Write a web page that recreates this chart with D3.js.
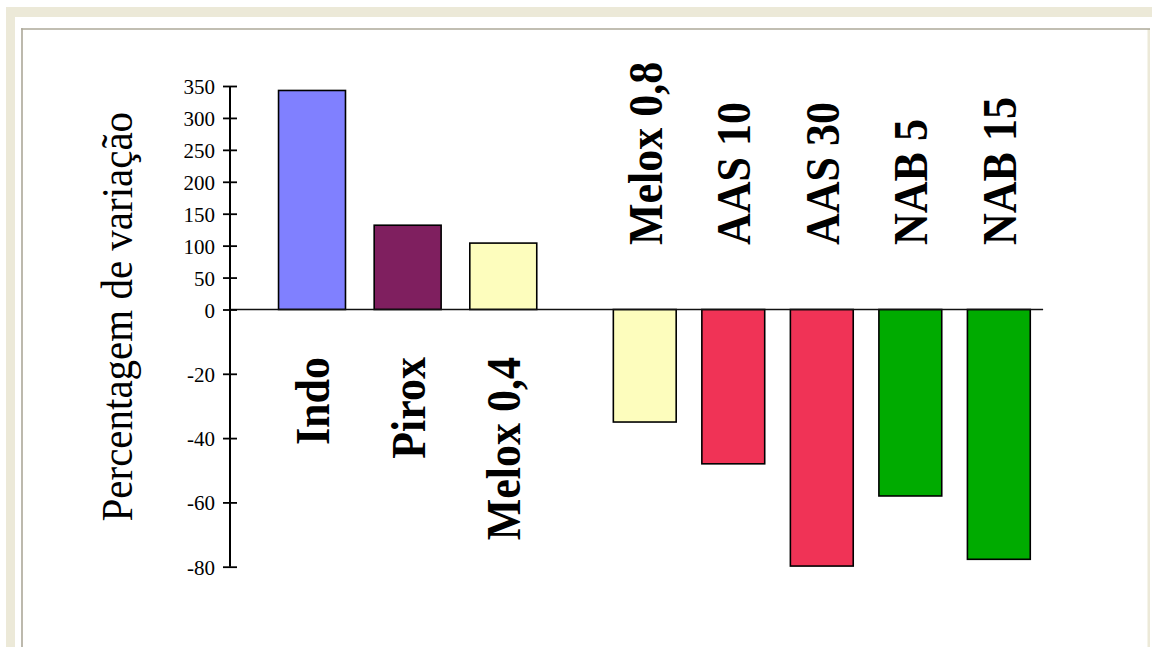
<!DOCTYPE html>
<html>
<head>
<meta charset="utf-8">
<script src="https://cdn.jsdelivr.net/npm/d3@7"></script>
<style>
  html, body { margin: 0; padding: 0; background: #ffffff; }
  svg { display: block; }
  text { font-family: "Liberation Serif", "Times New Roman", serif; fill: #000; }
</style>
</head>
<body>
<svg id="chart" width="1152" height="647"></svg>
<script>
// Tratamentos e percentagem de variação
const categorias = ["Indo", "Pirox", "Melox 0,4", "Melox 0,8", "AAS 10", "AAS 30", "NAB 5", "NAB 15"];
const valores    = [343, 132, 104, -35, -48, -79.8, -58, -77.7];
const cores      = ["#8080ff", "#7f1f5f", "#fdfdbd", "#fdfdbd", "#f03356", "#f03356", "#00ab00", "#00ab00"];
const ticksPositivos = [0, 50, 100, 150, 200, 250, 300, 350];
const ticksNegativos = [-20, -40, -60, -80];
const tituloY = "Percentagem de variação";

const svg = d3.select("#chart");

// Moldura do diapositivo
const bege = "#ece9d8", cinza = "#aca899";
svg.append("rect").attr("x", 6).attr("y", 7).attr("width", 1146).attr("height", 10).attr("fill", bege);
svg.append("rect").attr("x", 6).attr("y", 7).attr("width", 9).attr("height", 640).attr("fill", bege);
svg.append("rect").attr("x", 1147.5).attr("y", 29).attr("width", 2.5).attr("height", 618).attr("fill", bege);
svg.append("line").attr("x1", 21).attr("x2", 1150).attr("y1", 29).attr("y2", 29)
  .attr("stroke", cinza).attr("stroke-width", 1.6);
svg.append("line").attr("x1", 22).attr("x2", 22).attr("y1", 28.2).attr("y2", 647)
  .attr("stroke", cinza).attr("stroke-width", 1.6);

// Eixo com escala quebrada: parte positiva e parte negativa
const eixoX = 230;
const yPos = d3.scaleLinear().domain([0, 350]).range([309.5, 86]);
const yNeg = d3.scaleLinear().domain([-80, 0]).range([566.7, 309.5]);
const y = v => (v >= 0 ? yPos(v) : yNeg(v));

// Escalas de bandas: grupo de aumento e grupo de redução
const dados = categorias.map((c, i) => ({ c, v: valores[i], cor: cores[i] }));
const positivos = dados.filter(d => d.v >= 0).map(d => d.c);
const negativos = dados.filter(d => d.v < 0).map(d => d.c);
const xPos = d3.scaleBand().domain(positivos).range([264.2, 551.1]).paddingInner(0.3).paddingOuter(0.15);
const xNeg = d3.scaleBand().domain(negativos).range([600.5, 1043.1]).paddingInner(0.29).paddingOuter(0.145);
const xBand = d => (d.v >= 0 ? xPos : xNeg);

// Barras
svg.append("g").selectAll("rect").data(dados).join("rect")
  .attr("x", d => xBand(d)(d.c))
  .attr("width", d => xBand(d).bandwidth())
  .attr("y", d => Math.min(y(d.v), y(0)))
  .attr("height", d => Math.abs(y(d.v) - y(0)))
  .attr("fill", d => d.cor)
  .attr("stroke", "#000")
  .attr("stroke-width", 1.6);

// Linha do zero
svg.append("line")
  .attr("x1", eixoX).attr("x2", xNeg.range()[1])
  .attr("y1", y(0)).attr("y2", y(0))
  .attr("stroke", "#111").attr("stroke-width", 1.6);

// Eixo vertical
function estilizarEixo(g) {
  g.select(".domain").remove();
  g.selectAll(".tick line").attr("x1", 7).attr("stroke", "#000").attr("stroke-width", 1.8);
  g.selectAll(".tick text").attr("font-size", 21).attr("dy", "0.36em")
    .attr("font-family", "Liberation Serif, Times New Roman, serif");
}
svg.append("g").attr("transform", `translate(${eixoX},0)`)
  .call(d3.axisLeft(yPos).tickValues(ticksPositivos).tickSize(7).tickPadding(8).tickFormat(d3.format("d")))
  .call(estilizarEixo);
svg.append("g").attr("transform", `translate(${eixoX},0)`)
  .call(d3.axisLeft(yNeg).tickValues(ticksNegativos).tickSize(7).tickPadding(8).tickFormat(d => "-" + Math.abs(d)))
  .call(estilizarEixo);
svg.append("line")
  .attr("x1", eixoX).attr("x2", eixoX)
  .attr("y1", yPos(350)).attr("y2", yNeg(-80))
  .attr("stroke", "#000").attr("stroke-width", 2);

// Rótulos das barras (verticais, do lado oposto ao da barra)
svg.append("g").selectAll("text").data(dados).join("text")
  .attr("transform", d => {
    const cx = xBand(d)(d.c) + xBand(d).bandwidth() / 2 + 17;
    const ty = d.v >= 0 ? 357 : 245;
    return `translate(${cx},${ty}) scale(1.1,1) rotate(-90)`;
  })
  .attr("text-anchor", d => (d.v >= 0 ? "end" : "start"))
  .attr("font-size", 44)
  .attr("font-weight", "bold")
  .text(d => d.c);

// Título do eixo Y
svg.append("text")
  .attr("transform", "translate(131.5,316.7) scale(1.1,1) rotate(-90)")
  .attr("text-anchor", "middle")
  .attr("font-size", 41)
  .text(tituloY);
</script>
</body>
</html>
